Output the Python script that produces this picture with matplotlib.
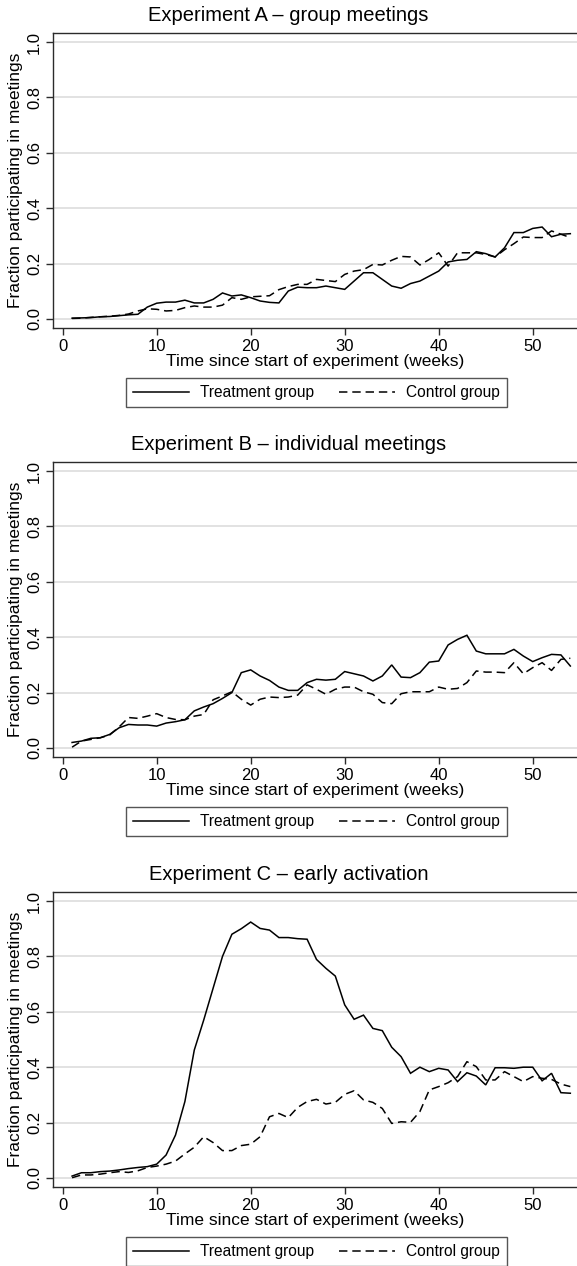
import matplotlib
matplotlib.use("Agg")
import matplotlib.pyplot as plt
import numpy as np

plt.rcParams['font.family'] = ['Liberation Sans', 'DejaVu Sans']

weeks = list(range(1, 55))

titles = ["Experiment A \u2013 group meetings",
          "Experiment B \u2013 individual meetings",
          "Experiment C \u2013 early activation"]

treat_a = [0.003, 0.004, 0.005, 0.008, 0.009, 0.012, 0.015, 0.017, 0.043, 0.057,
           0.061, 0.061, 0.068, 0.058, 0.058, 0.071, 0.094, 0.083, 0.087, 0.077,
           0.065, 0.060, 0.058, 0.101, 0.115, 0.113, 0.113, 0.119, 0.113, 0.107,
           0.137, 0.167, 0.167, 0.143, 0.119, 0.111, 0.128, 0.137, 0.155, 0.173,
           0.206, 0.212, 0.215, 0.243, 0.236, 0.224, 0.257, 0.312, 0.312, 0.327,
           0.332, 0.297, 0.306, 0.308]
ctrl_a = [0.002, 0.003, 0.006, 0.008, 0.010, 0.013, 0.018, 0.029, 0.037, 0.035,
          0.029, 0.031, 0.041, 0.047, 0.043, 0.043, 0.050, 0.077, 0.071, 0.080,
          0.082, 0.084, 0.106, 0.117, 0.125, 0.125, 0.143, 0.139, 0.135, 0.161,
          0.173, 0.178, 0.197, 0.195, 0.212, 0.226, 0.224, 0.195, 0.215, 0.239,
          0.191, 0.239, 0.239, 0.239, 0.233, 0.224, 0.250, 0.272, 0.296, 0.294,
          0.294, 0.318, 0.306, 0.294]

treat_b = [0.020, 0.025, 0.035, 0.037, 0.049, 0.073, 0.085, 0.083, 0.083, 0.079,
           0.090, 0.095, 0.102, 0.134, 0.148, 0.160, 0.179, 0.200, 0.272, 0.282,
           0.260, 0.244, 0.220, 0.208, 0.208, 0.236, 0.248, 0.245, 0.248, 0.276,
           0.268, 0.260, 0.242, 0.260, 0.300, 0.256, 0.254, 0.272, 0.310, 0.314,
           0.372, 0.392, 0.407, 0.350, 0.340, 0.340, 0.340, 0.356, 0.332, 0.312,
           0.326, 0.338, 0.336, 0.296]
ctrl_b = [0.003, 0.025, 0.031, 0.037, 0.047, 0.076, 0.110, 0.107, 0.115, 0.124,
          0.110, 0.103, 0.102, 0.115, 0.121, 0.174, 0.188, 0.203, 0.176, 0.155,
          0.176, 0.184, 0.182, 0.184, 0.191, 0.228, 0.212, 0.194, 0.212, 0.220,
          0.220, 0.203, 0.194, 0.164, 0.160, 0.196, 0.203, 0.203, 0.203, 0.220,
          0.212, 0.215, 0.236, 0.278, 0.274, 0.274, 0.272, 0.308, 0.268, 0.290,
          0.308, 0.280, 0.320, 0.324]

treat_c = [0.007, 0.019, 0.019, 0.023, 0.025, 0.029, 0.034, 0.038, 0.041, 0.050,
           0.083, 0.155, 0.276, 0.462, 0.570, 0.685, 0.800, 0.880, 0.900, 0.924,
           0.901, 0.895, 0.868, 0.868, 0.864, 0.862, 0.789, 0.757, 0.729, 0.625,
           0.573, 0.588, 0.540, 0.532, 0.472, 0.438, 0.378, 0.400, 0.384, 0.396,
           0.390, 0.348, 0.380, 0.368, 0.336, 0.398, 0.398, 0.396, 0.400, 0.400,
           0.351, 0.378, 0.308, 0.306]
ctrl_c = [0.001, 0.011, 0.011, 0.014, 0.019, 0.023, 0.020, 0.026, 0.038, 0.043,
          0.050, 0.061, 0.087, 0.111, 0.149, 0.128, 0.099, 0.099, 0.117, 0.122,
          0.149, 0.221, 0.233, 0.218, 0.255, 0.276, 0.284, 0.267, 0.273, 0.302,
          0.315, 0.282, 0.273, 0.251, 0.197, 0.203, 0.201, 0.240, 0.318, 0.330,
          0.344, 0.366, 0.420, 0.402, 0.354, 0.354, 0.384, 0.366, 0.348, 0.366,
          0.360, 0.356, 0.339, 0.330]

series = [(treat_a, ctrl_a), (treat_b, ctrl_b), (treat_c, ctrl_c)]
legend_labels = ["Treatment group", "Control group"]
x_ticks = [0, 10, 20, 30, 40, 50]
y_ticks = [0.0, 0.2, 0.4, 0.6, 0.8, 1.0]
x_label = "Time since start of experiment (weeks)"
y_label = "Fraction participating in meetings"

W, H = 577, 1266
fig = plt.figure(figsize=(W / 100, H / 100), dpi=100)

tops = [33, 462, 892]
pheight = 295
left_px = 53
frame_col = "#2b2b2b"
for i, top in enumerate(tops):
    bot = top + pheight
    ax = fig.add_axes([left_px / W, 1 - bot / H, (W - left_px) / W, pheight / H])
    t, c = series[i]
    ax.plot(weeks, t, color="black", lw=1.1, solid_joinstyle="miter",
            label=legend_labels[0])
    ax.plot(weeks, c, color="black", lw=1.1, linestyle=(0, (5.5, 3.2)),
            label=legend_labels[1])
    ax.set_xlim(-1.03, 54.71)
    ax.set_ylim(-0.0325, 1.0325)
    ax.set_xticks(x_ticks)
    ax.set_yticks(y_ticks)
    ax.set_yticklabels([f"{v:.1f}" for v in y_ticks], rotation=90, va="center")
    ax.grid(axis="y", color="#dadada", lw=1.1)
    ax.set_axisbelow(True)
    for s in ["left", "top", "bottom"]:
        ax.spines[s].set_color(frame_col)
        ax.spines[s].set_linewidth(1.0)
    ax.spines["right"].set_visible(False)
    ax.tick_params(axis="both", direction="out", length=5, width=1.0,
                   color=frame_col, labelsize=12, pad=3)
    ax.set_xlabel(x_label, fontsize=12.5, labelpad=0)
    ax.set_ylabel(y_label, fontsize=12.5, labelpad=3)
    fig.text(0.5, 1 - (top - 17.5) / H, titles[i], ha="center", va="center",
             fontsize=14.5)
    leg = ax.legend(loc="upper center", bbox_to_anchor=(0.503, -0.17), ncol=2,
                    frameon=True, fancybox=False, fontsize=11.2,
                    handlelength=3.6, handletextpad=0.7, columnspacing=1.6,
                    borderpad=0.45, borderaxespad=0)
    leg.get_frame().set_edgecolor(frame_col)
    leg.get_frame().set_linewidth(1.0)

fig.savefig("out.png", dpi=100)
